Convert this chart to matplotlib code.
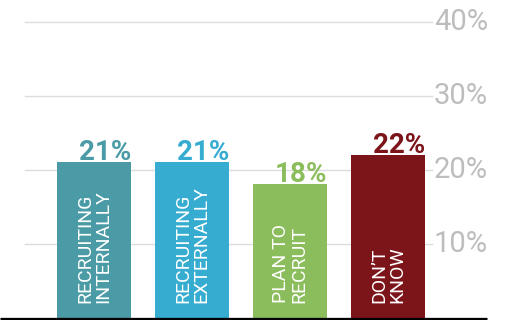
import matplotlib
matplotlib.use("Agg")
import matplotlib.pyplot as plt

categories = ["RECRUITING\nINTERNALLY", "RECRUITING\nEXTERNALLY", "PLAN TO\nRECRUIT", "DON’T\nKNOW"]
values = [21, 21, 18, 22]
value_labels = ["21%", "21%", "18%", "22%"]
tick_values = [10, 20, 30, 40]
tick_labels = ["10%", "20%", "30%", "40%"]
colors = ["#4a9ba6", "#36acd0", "#8bbd5c", "#7c1519"]

W, H = 509, 320
fig = plt.figure(figsize=(W / 100, H / 100), dpi=100)
ax = fig.add_axes([0, 0, 1, 1])
ax.set_axis_off()

px = 98.0
x0 = 94.0
ax.set_xlim((0 - x0) / px, (W - x0) / px)
ppp = 7.4  # pixels per percent
base = 317.5
ax.set_ylim(-(H - base) / ppp, base / ppp)

fam = "Roboto"
for t, lab in zip(tick_values, tick_labels):
    ax.plot([(25 - x0) / px, (432 - x0) / px], [t, t], color="#dcdcdc", lw=1, zorder=0)
    ax.text((434 - x0) / px, t, lab, ha="left", va="center", fontsize=21,
            color="#bdbdbd", family=fam, fontweight="normal")

xs = list(range(len(values)))
bw = 74 / px
ax.bar(xs, values, width=bw, color=colors, zorder=2)

for x, v, c, lab, cat in zip(xs, values, colors, value_labels, categories):
    ax.text(x + bw / 2, v - 0.55, lab, ha="right", va="bottom", fontsize=20,
            fontweight="bold", color=c, family=fam, zorder=3)
    ax.text(x, 1.9, cat, rotation=90, ha="center", va="bottom", fontsize=14,
            color="white", family=fam, multialignment="left", linespacing=1.0, zorder=3)

ax.plot([(0 - x0) / px, (487 - x0) / px], [-0.3, -0.3], color="black", lw=3.8,
        solid_capstyle="butt", zorder=4)

fig.savefig("out.png", dpi=100)
